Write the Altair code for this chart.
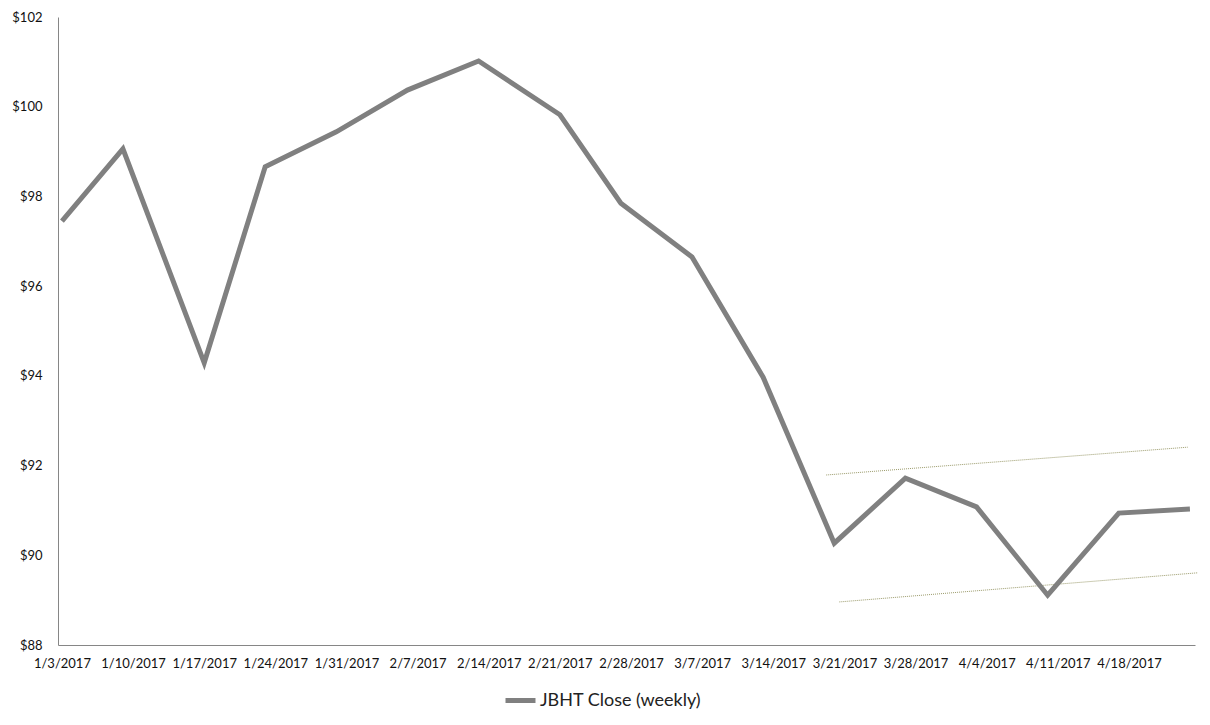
import altair as alt
import pandas as pd

dates = ["2017-01-03", "2017-01-09", "2017-01-17", "2017-01-23", "2017-01-30",
         "2017-02-06", "2017-02-13", "2017-02-21", "2017-02-27", "2017-03-06",
         "2017-03-13", "2017-03-20", "2017-03-27", "2017-04-03", "2017-04-10",
         "2017-04-17", "2017-04-24"]
closes = [97.45, 99.06, 94.29, 98.66, 99.44, 100.37, 101.02, 99.82, 97.85, 96.65,
          93.97, 90.27, 91.72, 91.08, 89.11, 90.94, 91.03]
series_name = "JBHT Close (weekly)"

trend_ids = ["upper", "upper", "lower", "lower"]
trend_dates = ["2017-03-19T05:00:00", "2017-04-23T19:00:00",
               "2017-03-20T12:00:00", "2017-04-24T19:00:00"]
trend_values = [91.79, 92.41, 88.96, 89.61]

tick_days = [3, 10, 17, 24, 31, 7, 14, 21, 28, 7, 14, 21, 28, 4, 11, 18]
tick_months = [1, 1, 1, 1, 1, 2, 2, 2, 2, 3, 3, 3, 3, 4, 4, 4]

df = pd.DataFrame({"date": [d + "T00:00:00" for d in dates], "close": closes,
                   "series": series_name})
tdf = pd.DataFrame({"id": trend_ids, "date": trend_dates, "value": trend_values})

font = "Lato"

x_scale = alt.Scale(domain=[alt.DateTime(year=2017, month=1, date=2, hours=14, minutes=40),
                            alt.DateTime(year=2017, month=4, date=24, hours=12)])
y_scale = alt.Scale(domain=[88, 102], nice=False, zero=False)

x_axis = alt.Axis(
    values=[alt.DateTime(year=2017, month=m, date=d) for m, d in zip(tick_months, tick_days)],
    format="%-m/%-d/%Y", labelAngle=0, ticks=False, grid=False, title=None,
    labelFontSize=13, labelColor="#111111", labelPadding=12,
    domainColor="#868686", labelFont=font, labelOverlap=False,
)
y_axis = alt.Axis(
    values=[88, 90, 92, 94, 96, 98, 100, 102], format="$.0f", ticks=False, grid=False,
    title=None, labelFontSize=13, labelColor="#111111", labelPadding=16,
    domainColor="#868686", labelFont=font,
)

main = alt.Chart(df).mark_line(strokeWidth=5, strokeJoin="miter").encode(
    x=alt.X("date:T", scale=x_scale, axis=x_axis),
    y=alt.Y("close:Q", scale=y_scale, axis=y_axis),
    color=alt.Color("series:N", scale=alt.Scale(range=["#808080"]),
                    legend=alt.Legend(orient="none", legendX=445, legendY=666,
                                      title=None, symbolType="stroke",
                                      symbolStrokeWidth=5, symbolSize=900,
                                      labelFontSize=18, labelFont=font,
                                      labelColor="#222222", labelOffset=2,
                                      labelLimit=400, padding=0)),
)

trend = alt.Chart(tdf).mark_line(strokeWidth=1, strokeDash=[1, 1], color="#9b9b6b").encode(
    x=alt.X("date:T", scale=x_scale),
    y=alt.Y("value:Q", scale=y_scale),
    detail="id:N",
)

chart = alt.layer(trend, main).properties(
    width=1137, height=628,
    autosize=alt.AutoSizeParams(type="none"),
    padding={"left": 50, "top": 9, "right": 7, "bottom": 70},
).configure(font=font).configure_view(stroke=None, strokeWidth=0)

chart.save("out.html", embed_options={"renderer": "svg", "actions": False})
